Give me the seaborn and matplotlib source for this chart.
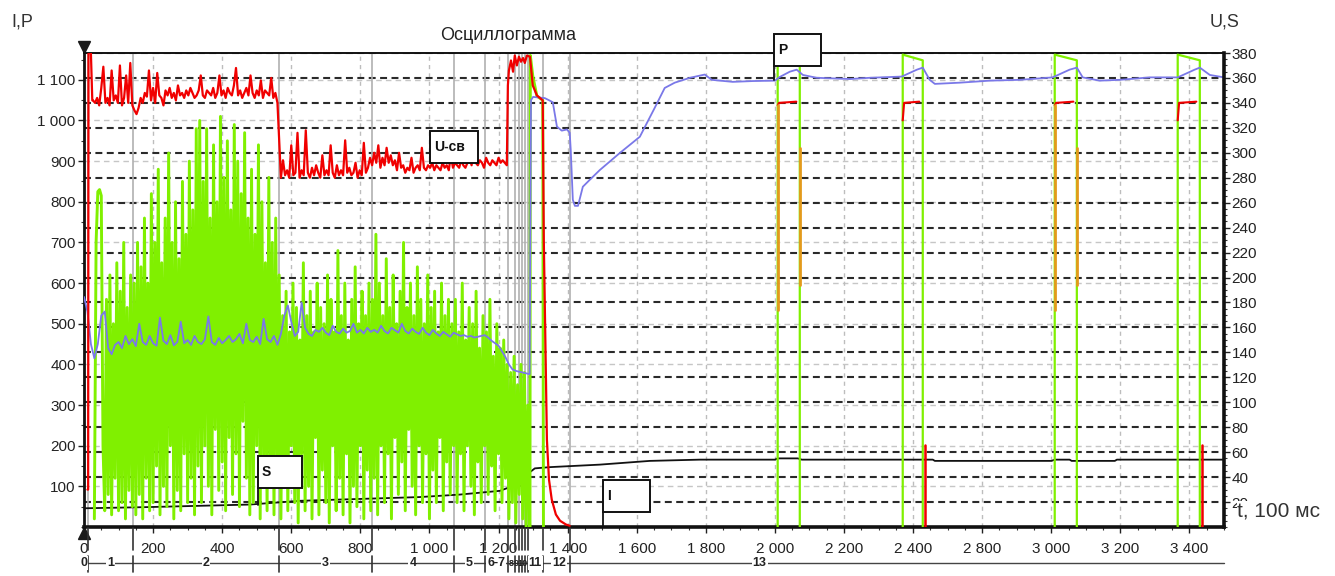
import numpy as np
import matplotlib
matplotlib.use("Agg")
import matplotlib.pyplot as plt
from matplotlib.patches import Rectangle
from matplotlib.ticker import MultipleLocator
from matplotlib.transforms import blended_transform_factory
import seaborn as sns

# ---------------- scales ----------------
X_LIMITS = (0, 3300)
X_TICKS = list(range(0, 3201, 200))
X_TICK_LABELS = ["0", "200", "400", "600", "800", "1 000", "1 200", "1 400",
                 "1 600", "1 800", "2 000", "2 200", "2 400", "2 800",
                 "3 000", "3 200", "3 400"]

I_P_LIMITS = (0, 1166)
I_P_TICKS = list(range(100, 1101, 100))
I_P_TICK_LABELS = ["100", "200", "300", "400", "500", "600", "700", "800",
                   "900", "1 000", "1 100"]

U_S_LIMITS = (0, 380)
U_S_TICKS = list(range(20, 381, 20))

# ---------------- welding stages ----------------
STAGE_BOUNDS = [12, 142, 564, 833, 1071, 1160, 1227, 1247, 1259, 1268, 1276,
                1285, 1328, 1406]
STAGE_NAMES = ["0", "1", "2", "3", "4", "5", "6-7", "8", "9", "10", "11",
               "12", "13"]
STAGE_NAME_X = [0, 77, 353, 698, 952, 1115, 1193, 1236, 1252, 1268, 1306,
                1375, 1956]

# ---------------- U-св, welding voltage (right axis) ----------------
U_LEAD_X = [10, 12, 13, 20, 24]
U_LEAD = [30, 30, 380, 380, 342]
U_PH2_START, U_PH2_STEP = 26, 6
U_PH2 = [342, 340, 344, 338, 352, 369, 340, 344, 338, 366,
         342, 346, 340, 370, 338, 344, 362, 340, 372, 338,
         334, 331, 336, 344, 340, 348, 345, 366, 342, 352,
         340, 364, 346, 344, 338, 350, 346, 352, 344, 348,
         342, 354, 346, 348, 344, 350, 346, 352, 348, 344,
         346, 350, 362, 346, 344, 350, 348, 346, 352, 344,
         348, 362, 346, 350, 344, 352, 348, 346, 354, 368,
         346, 350, 344, 348, 352, 346, 362, 348, 344, 350,
         346, 358, 344, 350, 348, 346, 360, 344, 348, 340]
U_PH3_START, U_PH3_STEP = 570, 6
U_PH3 = [280, 294, 282, 286, 280, 306, 282, 284, 316, 280,
         286, 282, 318, 284, 280, 288, 282, 290, 284, 280,
         298, 282, 286, 282, 306, 284, 280, 290, 282, 286,
         282, 310, 284, 288, 282, 284, 292, 280, 286, 282,
         308, 284, 288, 296, 290, 300, 292, 306, 288, 296,
         290, 304, 292, 298, 290, 294, 286, 300, 288, 290,
         284, 288, 286, 296, 284, 288, 290, 286, 304, 288,
         286, 290, 288, 292, 286, 290, 288, 286, 292, 288,
         290, 286, 298, 288, 292, 290, 288, 294, 290, 288,
         292, 296, 290, 306, 292, 290, 294, 292, 288, 296,
         292, 290, 294, 292, 290, 296, 292, 294, 292, 290]
U_TAIL_X = [1227, 1230, 1236, 1242, 1247, 1253, 1259, 1265, 1271, 1276, 1282,
            1291, 1299, 1311, 1328, 1331, 1340, 1346, 1354, 1366, 1378, 1395,
            1406]
U_TAIL = [354, 366, 374, 365, 378, 370, 377, 373, 376, 372, 378,
          377, 354, 346, 342, 230, 70, 38, 22, 10, 5, 2, 1]

# ---------------- I, welding current (left axis) ----------------
I_WELD_START, I_WELD_STEP = 30, 5
I_WELD = [
    20, 700, 825, 830, 815, 200,
    40, 560, 80, 620, 30, 500, 120, 650, 40, 580, 60, 700, 20, 540, 90, 620,
    50, 600,
    30, 700, 80, 640, 20, 760, 120, 600, 40, 820, 60, 700, 150, 880, 30, 650,
    100, 760, 50, 920, 200, 700, 20, 800, 90, 660, 40, 850, 180, 720, 60, 900,
    120, 780, 30, 980,
    150, 1000, 60, 850, 200, 980, 100, 760, 30, 940, 240, 800, 90, 1010, 160,
    860, 40, 950, 220, 780, 80, 990, 180, 900, 50, 820, 260, 970, 120, 760, 30,
    880, 60, 720, 200, 940, 20, 800, 150, 650, 40, 860, 100, 700, 30, 760, 140,
    620, 20, 520, 120, 580, 40, 480, 200, 600, 60, 540, 10, 460, 180, 650, 40,
    520, 100, 580, 20, 480, 220, 600, 30, 540, 140, 500, 60, 620, 10, 560, 200,
    480, 40, 680, 120, 520, 30, 600, 180, 460, 10, 560, 100, 640, 50, 500, 200,
    580, 20, 520, 140, 600, 40,
    560, 120, 720, 30, 600, 200, 520, 60, 660, 180, 540, 20, 620, 220, 500, 80,
    580, 160, 700, 40, 540, 240, 600, 100, 520, 30, 640, 200, 560, 60, 500, 180,
    620, 20, 540, 140, 580, 60, 480, 220, 600, 40, 520, 160, 560, 80, 500, 200,
    560, 60, 480, 180, 600, 40, 460, 200, 540, 100, 500, 30, 580, 160, 440, 60,
    520, 200, 480, 80, 560, 150, 420, 40, 500, 180, 440, 60, 460, 120, 400,
    20, 380, 60, 420, 10, 350, 80, 400, 20, 380, 0, 300, 0]
I_TAIL_X = [1291, 1292, 1299, 1311, 1328, 1330]
I_TAIL = [0, 1160, 1110, 1060, 1050, 0]

# ---------------- P, upset force (left axis) ----------------
P_WELD_START, P_WELD_STEP = 0, 10
P_WELD = [566, 530, 450, 415, 450, 520, 530, 440, 425, 448,
          455, 440, 470, 450, 462, 445, 500, 455, 448, 470,
          452, 446, 515, 458, 450, 472, 447, 455, 505, 452,
          460, 448, 470, 455, 450, 462, 518, 455, 448, 465,
          452, 460, 470, 455, 462, 475, 452, 500, 460, 455,
          468, 450, 512, 462, 455, 470, 448,
          475, 520, 545, 505, 470, 480, 552, 490, 475, 470,
          485, 480, 490, 478, 472, 495, 480, 476, 488, 478,
          482, 500, 478, 485, 476, 490, 480, 485, 478, 495,
          482, 476, 490, 484, 478, 500, 482, 476, 488, 480,
          475, 490, 478, 472, 485, 476, 470, 480, 474, 468,
          478, 474, 470, 472, 468, 470, 466, 468, 470, 472,
          466, 458, 452, 446, 432, 418, 400, 388, 384, 382,
          380, 378, 376]
P_TAIL_X = [1294, 1300, 1334, 1357, 1369, 1383, 1398, 1406, 1409, 1415,
            1421, 1430, 1444, 1464, 1493, 1551, 1609, 1652, 1681, 1710,
            1754, 1797, 1817, 1878, 1936, 2000, 2014, 2043, 2063, 2081,
            2121, 2217, 2275, 2367, 2411, 2428, 2448, 2463, 2535, 2622,
            2709, 2804, 2853, 2874, 2891, 2940, 2998, 3085, 3166, 3215,
            3230, 3259, 3300]
P_TAIL = [1050, 1058, 1055, 1045, 985, 975, 978, 970, 927, 805,
          790, 790, 837, 854, 878, 920, 960, 1031, 1080, 1093,
          1105, 1113, 1100, 1095, 1097, 1098, 1107, 1120, 1125, 1112,
          1105, 1102, 1105, 1108, 1125, 1130, 1100, 1090, 1093, 1098,
          1100, 1106, 1125, 1130, 1106, 1098, 1100, 1106, 1106, 1125,
          1130, 1112, 1106]

# ---------------- S, platen travel (right axis) ----------------
S_X = [0, 191, 480, 625, 741, 972, 1088, 1204, 1233, 1262, 1282, 1291, 1305,
       1349, 1493, 1638, 1783, 2000, 2008, 2066, 2078, 2457, 2463, 2801,
       2810, 2853, 2859, 2984, 2990, 3300]
S = [15, 16, 18, 21, 22, 24, 26, 29, 32, 33, 34, 44, 47, 48, 50, 53, 54, 54,
     55, 55, 54, 54, 53, 53, 54, 54, 53, 53, 54, 54]

# ---------------- post-weld heat pulses ----------------
PULSE_ON = [2008, 2370, 2810, 3166]
PULSE_OFF = [2072, 2428, 2874, 3230]
PULSE_KIND = ["orange", "red", "orange", "red"]
I_PULSE_RISE, I_PULSE_FALL = 1162, 1148
U_PULSE_DIP = [338, 326, 338, 326]
U_PULSE_LEVEL = 340
ORANGE_ON_SPAN = (338, 174)
ORANGE_OFF_SPAN = (304, 194)
U_PULSE_SPIKE = 66

# ---------------- marker boxes (x range, left-axis y range) ----------------
BOXES = {
    "P": ((1997, 2133), (1134, 1213), 1100),
    "U-св": ((1001, 1140), (896, 974), None),
    "S": ((504, 631), (96, 175), 54),
    "I": ((1502, 1638), (37, 116), 0),
}

RED = "#f00000"
GREEN = "#80f000"
BLUE = "#7a78e8"
ORANGE = "#e39a1c"
BLACK = "#111111"

sns.set_theme(style="white")
plt.rcParams["font.family"] = ["Liberation Sans", "DejaVu Sans"]
plt.rcParams["lines.scale_dashes"] = False

fig = plt.figure(figsize=(13.35, 5.76), dpi=100)
ax = fig.add_axes([84 / 1335, 49 / 576, 1140 / 1335, 474 / 576])
ax2 = ax.twinx()


def trace(axis, x, y, color, lw, z, **kw):
    sns.lineplot(x=np.asarray(x, float), y=np.asarray(y, float), ax=axis,
                 color=color, lw=lw, estimator=None, sort=False,
                 legend=False, zorder=z, **kw)


def series_x(start, step, values):
    return start + step * np.arange(len(values))


# grid
xa = blended_transform_factory(ax.transData, ax.transAxes)
ax.hlines(I_P_TICKS, 0, 1, transform=blended_transform_factory(ax.transAxes, ax.transData),
          colors="#c6c6c6", linestyles=(0, (4, 3)), lw=1.0, zorder=0.5)
ax.hlines(U_S_TICKS, 0, 1, transform=blended_transform_factory(ax.transAxes, ax2.transData),
          colors="#2a2a2a", linestyles=(0, (5, 3.2)), lw=1.5, zorder=0.6)
ax.vlines(X_TICKS[1:], 0, 1, transform=xa, colors="#bdbdbd",
          linestyles=(0, (3, 3)), lw=1.0, zorder=0.5)
ax.vlines(STAGE_BOUNDS, 0, 1, transform=xa, colors="#b0b0b0", lw=1.2, zorder=0.7)

# S on the right scale, drawn beneath the current trace
trace(ax, S_X, S, BLACK, 1.3, 2, transform=ax2.transData)

# welding current
i_x = np.concatenate([series_x(I_WELD_START, I_WELD_STEP, I_WELD), I_TAIL_X])
i_y = np.concatenate([I_WELD, I_TAIL])
trace(ax, i_x, i_y, GREEN, 2.1, 3)
for on, off in zip(PULSE_ON, PULSE_OFF):
    trace(ax, [on, on, off, off], [0, I_PULSE_RISE, I_PULSE_FALL, 0], GREEN, 1.6, 3)

# force
p_x = np.concatenate([series_x(P_WELD_START, P_WELD_STEP, P_WELD), P_TAIL_X])
p_y = np.concatenate([P_WELD, P_TAIL])
trace(ax, p_x, p_y, BLUE, 1.3, 4)

# welding voltage
u_x = np.concatenate([U_LEAD_X, series_x(U_PH2_START, U_PH2_STEP, U_PH2),
                      series_x(U_PH3_START, U_PH3_STEP, U_PH3), U_TAIL_X])
u_y = np.concatenate([U_LEAD, U_PH2, U_PH3, U_TAIL])
trace(ax2, u_x, u_y, RED, 1.6, 3)
for k, (on, off) in enumerate(zip(PULSE_ON, PULSE_OFF)):
    trace(ax2, [on, on + 4, off - 10], [U_PULSE_DIP[k], U_PULSE_LEVEL, U_PULSE_LEVEL + 1],
          RED, 1.5, 4)
    if PULSE_KIND[k] == "orange":
        trace(ax2, [on, on], ORANGE_ON_SPAN, ORANGE, 2.0, 4)
        trace(ax2, [off, off], ORANGE_OFF_SPAN, ORANGE, 2.0, 4)
    else:
        trace(ax2, [off + 6, off + 6], [0, U_PULSE_SPIKE], RED, 1.8, 4)

# labelled marker boxes
for name, ((x0, x1), (y0, y1), tip) in BOXES.items():
    ax2.add_patch(Rectangle((x0, y0), x1 - x0, y1 - y0, transform=ax.transData,
                            facecolor="white", edgecolor="#111", lw=1.4,
                            clip_on=False, zorder=8))
    ax2.text(x0 + 0.09 * (x1 - x0), (y0 + y1) / 2, name, transform=ax.transData,
             ha="left", va="center", fontsize=10, fontweight="bold",
             color="#111", zorder=9, clip_on=False)
    if tip is not None:
        ax2.plot([x0, x0], [y0, tip], transform=ax.transData, color="#111",
                 lw=1.3, zorder=8, clip_on=False)

# stage bar under the time axis
BAR_Y = -0.076
ax.plot([0, X_LIMITS[1]], [BAR_Y, BAR_Y], transform=xa, color="#444", lw=1.0,
        clip_on=False, zorder=3)
for b in STAGE_BOUNDS:
    ax.plot([b, b], [-0.002, -0.048], transform=xa, color="#333", lw=1.2,
            clip_on=False, zorder=3)
    ax.plot([b, b], [-0.061, -0.094], transform=xa, color="#333", lw=1.2,
            clip_on=False, zorder=3)
for name, x in zip(STAGE_NAMES, STAGE_NAME_X):
    small = len(name) <= 2 and 1230 < x < 1300
    ax.text(x, BAR_Y, name, transform=xa, ha="center", va="center",
            fontsize=6.5 if small else 9,
            fontweight="bold", color="#222", clip_on=False, zorder=5,
            bbox=None if small else dict(facecolor="white", edgecolor="none", pad=0.6))

# axes arrows
ax.plot([0], [1.013], marker="v", ms=9, color="k", transform=ax.transAxes, clip_on=False)
ax.plot([0], [-0.013], marker="^", ms=9, color="k", transform=ax.transAxes, clip_on=False)

# limits and ticks
ax.set_xlim(*X_LIMITS)
ax.set_ylim(*I_P_LIMITS)
ax2.set_ylim(*U_S_LIMITS)
ax.set_xticks(X_TICKS)
ax.set_xticklabels(X_TICK_LABELS)
ax.xaxis.set_minor_locator(MultipleLocator(50))
ax.set_yticks(I_P_TICKS)
ax.set_yticklabels(I_P_TICK_LABELS)
ax.yaxis.set_minor_locator(MultipleLocator(50))
ax2.set_yticks(U_S_TICKS)
ax2.yaxis.set_minor_locator(MultipleLocator(5))
ax.set_xlabel("")
ax.set_ylabel("")
ax2.set_ylabel("")

ax.tick_params(axis="x", which="major", direction="out", length=4, width=1,
               pad=7, labelsize=11, bottom=True, colors="#222")
ax.tick_params(axis="x", which="minor", direction="out", length=2.5, width=0.8,
               bottom=True, colors="#333")
ax.tick_params(axis="y", which="major", direction="out", length=4, width=1,
               pad=2, labelsize=11, left=True, colors="#222")
ax.tick_params(axis="y", which="minor", direction="out", length=2, width=0.8,
               left=True, colors="#333")
ax2.tick_params(axis="y", which="major", direction="out", length=4, width=1,
                pad=1.5, labelsize=11, right=True, colors="#222")
ax2.tick_params(axis="y", which="minor", direction="out", length=2, width=0.8,
                right=True, colors="#333")

for side, lw in [("left", 2.0), ("bottom", 2.6), ("top", 1.4)]:
    ax.spines[side].set_color("#111")
    ax.spines[side].set_linewidth(lw)
ax.spines["right"].set_visible(False)
for side in ["left", "bottom", "top"]:
    ax2.spines[side].set_visible(False)
ax2.spines["right"].set_color("#111")
ax2.spines["right"].set_linewidth(2.6)

# titles and units
fig.text(22 / 1335, 1 - 22 / 576, "I,P", ha="center", va="center", fontsize=13, color="#333")
fig.text(1225 / 1335, 1 - 22 / 576, "U,S", ha="center", va="center", fontsize=13, color="#333")
fig.text(440 / 1335, 1 - 35 / 576, "Осциллограмма", ha="left", va="center",
         fontsize=13, color="#222")
fig.text(1237 / 1335, 1 - 511 / 576, "t, 100 мс", ha="left", va="center",
         fontsize=15, color="#333",
         bbox=dict(facecolor="white", edgecolor="none", pad=0.3))

fig.savefig("out.png", dpi=100)
